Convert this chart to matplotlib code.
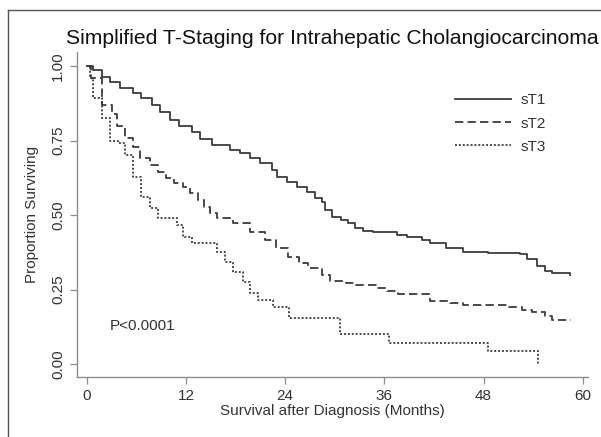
import matplotlib
matplotlib.use("Agg")
import matplotlib.pyplot as plt
from matplotlib.lines import Line2D

plt.rcParams['font.family'] = ['Liberation Sans', 'DejaVu Sans']
plt.rcParams['lines.scale_dashes'] = False

# Kaplan-Meier step estimates by simplified T stage
t_st1 = [0, 0.8, 1.8, 2.8, 4.0, 5.6, 6.6, 7.9, 8.8, 10.0, 11.2, 12.7, 13.7, 15.2,
         17.3, 18.5, 19.7, 20.9, 22.4, 23.0, 24.2, 25.4, 26.6, 27.6, 28.5, 28.8,
         29.7, 30.8, 31.6, 32.4, 33.4, 34.6, 37.5, 38.7, 40.5, 41.5, 43.5, 45.5,
         48.5, 52.4, 53.3, 54.4, 55.4, 56.3, 58.5]
s_st1 = [1.0, 0.985, 0.963, 0.946, 0.926, 0.91, 0.893, 0.87, 0.845, 0.82, 0.80,
         0.78, 0.755, 0.735, 0.718, 0.708, 0.69, 0.675, 0.65, 0.628, 0.61, 0.594,
         0.577, 0.557, 0.543, 0.517, 0.493, 0.483, 0.473, 0.456, 0.446, 0.443,
         0.433, 0.426, 0.416, 0.406, 0.39, 0.376, 0.373, 0.368, 0.352, 0.33,
         0.312, 0.305, 0.30]

t_st2 = [0, 0.5, 1.8, 3.0, 3.6, 4.6, 5.6, 6.4, 7.6, 8.6, 9.6, 10.6, 11.6, 12.5,
         13.4, 14.2, 14.9, 15.8, 17.7, 19.7, 21.5, 22.9, 24.3, 25.7, 26.7, 28.5,
         29.4, 31.4, 32.6, 35.0, 36.3, 37.6, 41.5, 43.9, 45.5, 51.1, 52.7, 53.9,
         55.4, 56.3, 58.6]
s_st2 = [1.0, 0.96, 0.87, 0.84, 0.80, 0.76, 0.728, 0.69, 0.668, 0.645, 0.624,
         0.607, 0.594, 0.574, 0.55, 0.527, 0.507, 0.49, 0.473, 0.443, 0.416, 0.39,
         0.36, 0.34, 0.322, 0.30, 0.28, 0.272, 0.265, 0.255, 0.245, 0.235, 0.213,
         0.205, 0.198, 0.19, 0.18, 0.174, 0.16, 0.148, 0.148]

t_st3 = [0, 0.4, 0.8, 1.8, 2.8, 3.8, 4.6, 5.6, 6.6, 7.6, 8.6, 10.9, 11.6, 12.7,
         15.7, 16.7, 17.7, 18.9, 19.7, 20.7, 22.5, 24.5, 30.6, 36.6, 48.5, 54.6]
s_st3 = [1.0, 0.96, 0.893, 0.826, 0.75, 0.74, 0.70, 0.628, 0.56, 0.523, 0.49,
         0.466, 0.426, 0.406, 0.376, 0.342, 0.309, 0.275, 0.238, 0.215, 0.19,
         0.154, 0.10, 0.07, 0.045, 0.0]

x_ticks = [0, 12, 24, 36, 48, 60]
y_ticks = [0.0, 0.25, 0.5, 0.75, 1.0]
y_labels = ["0.00", "0.25", "0.50", "0.75", "1.00"]

line_col = "#3c3c3c"
axis_col = "#8c8c8c"
text_col = "#333333"

fig = plt.figure(figsize=(6.01, 4.37), dpi=100)
ax = fig.add_axes([0.128, 0.137, 0.850, 0.744])

ax.step(t_st1, s_st1, where="post", color=line_col, lw=1.3, label="sT1")
ax.step(t_st2, s_st2, where="post", color=line_col, lw=1.3,
        dashes=(6, 3), label="sT2")
ax.step(t_st3, s_st3, where="post", color=line_col, lw=1.3,
        dashes=(1.4, 1.4), label="sT3")

ax.set_xlim(-1.2, 60.6)
ax.set_ylim(-0.044, 1.047)
ax.set_xticks(x_ticks)
ax.set_yticks(y_ticks)
ax.set_yticklabels(y_labels, rotation=90, va="center")

for side in ["top", "right"]:
    ax.spines[side].set_visible(False)
for side in ["left", "bottom"]:
    ax.spines[side].set_color(axis_col)
    ax.spines[side].set_linewidth(1.0)
ax.tick_params(colors=axis_col, length=5, width=0.9, labelcolor=text_col,
               labelsize=11)

ax.set_xlabel("Survival after Diagnosis (Months)", fontsize=11, color=text_col,
              labelpad=1)
ax.set_ylabel("Proportion Surviving", fontsize=11, color=text_col, labelpad=9)
ax.set_title("Simplified T-Staging for Intrahepatic Cholangiocarcinoma",
             fontsize=15.2, color="#111111", pad=6)

ax.text(2.8, 0.128, "P<0.0001", fontsize=11, color=text_col, va="center")

leg = ax.legend(loc="upper right", bbox_to_anchor=(0.945, 0.915), frameon=False,
                fontsize=11, handlelength=3.7, handletextpad=0.6,
                labelspacing=0.6, labelcolor=text_col)

# outer frame lines at the top and left of the figure
fig.add_artist(Line2D([8 / 601, 8 / 601], [0, 1 - 10 / 437],
                      transform=fig.transFigure, color="#555555", lw=1.0))
fig.add_artist(Line2D([8 / 601, 1], [1 - 10 / 437, 1 - 10 / 437],
                      transform=fig.transFigure, color="#555555", lw=1.0))

fig.savefig("out.png", dpi=100)
